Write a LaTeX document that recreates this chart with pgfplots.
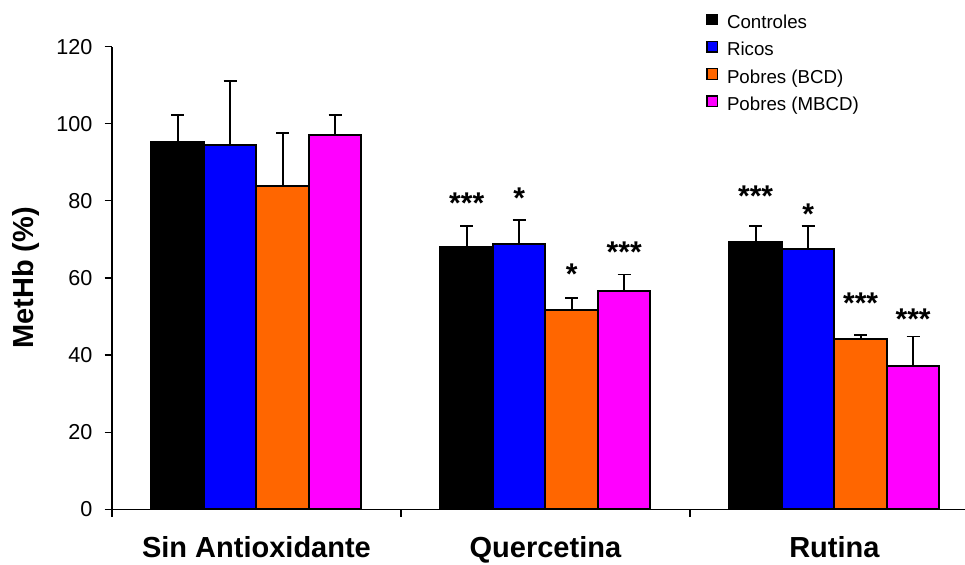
\documentclass[border=0pt]{standalone}
\usepackage{fontspec}
\setmainfont{Liberation Sans}
\usepackage{pgfplots}
\usepackage{pgfplotstable}
\pgfplotsset{compat=1.18}

\definecolor{ctrlcol}{RGB}{0,0,0}
\definecolor{ricoscol}{RGB}{0,0,255}
\definecolor{bcdcol}{RGB}{255,102,0}
\definecolor{mbcdcol}{RGB}{255,0,255}

% mean and SD per group (0 = Sin Antioxidante, 1 = Quercetina, 2 = Rutina)
\pgfplotstableread{
x y e
0 95.4 6.9
1 68.0 5.5
2 69.4 4.1
}\controles
\pgfplotstableread{
x y e
0 94.4 16.8
1 68.8 6.2
2 67.4 6.1
}\ricos
\pgfplotstableread{
x y e
0 83.8 13.9
1 51.6 3.3
2 44.2 1.0
}\pobresbcd
\pgfplotstableread{
x y e
0 97.2 5.1
1 56.7 4.2
2 37.2 7.6
}\pobresmbcd

\pgfplotsset{
  sqlegend/.style={legend image code/.code={
      \draw[##1, draw=black, line width=0.6pt] (0pt,-0.5pt) rectangle (5.25pt,4.75pt);
      \path (9.5pt,0pt);}},
  barplot/.style={draw=black, line width=1pt, fill=#1, sqlegend,
    error bars/.cd, y dir=plus, y explicit,
    error mark=-,
    error bar style={line width=0.9pt, black},
    error mark options={rotate=90, black, line width=0.9pt, mark size=3.25pt}},
}

\newcommand{\stars}[3]{\node[anchor=base, inner sep=0pt, font=\fontsize{15}{17}\bfseries\selectfont] at (axis cs:#1,#2) {#3};}

\begin{document}
\begin{tikzpicture}
\path[use as bounding box] (-56pt,-27.85pt) rectangle (426.5pt,254.65pt);
\begin{axis}[
  scale only axis,
  width=426.5pt, height=231.3pt,
  xmin=-0.5, xmax=2.452,
  ymin=0, ymax=120,
  ytick={0,20,...,120},
  axis x line=bottom, axis y line=left,
  axis line style={line width=0.6pt, -},
  tick align=outside,
  major tick length=3.7pt,
  tick style={line width=0.6pt, black},
  xtick={-0.5,0.5,1.5},
  xticklabels={},
  extra x ticks={0,1,2},
  extra x tick labels={Sin Antioxidante, Quercetina, Rutina},
  extra x tick style={major tick length=0pt,
    xticklabel style={anchor=base, inner sep=0pt, yshift=-24pt,
      font=\fontsize{14.5}{17}\bfseries\selectfont}},
  /pgf/number format/assume math mode=true,
  yticklabel style={font=\fontsize{10.8}{13}\selectfont, anchor=east, inner sep=0pt, xshift=-5.85pt},
  ylabel={MetHb (\%)},
  ylabel style={at={(axis description cs:-0.0844,0.5)}, anchor=south, inner sep=0pt,
    rotate=0, font=\fontsize{14.5}{17}\bfseries\selectfont},
  ybar=0pt, bar width=26.25pt,
  legend style={draw=none, fill=none, inner sep=0pt,
    at={(axis description cs:0.6964,1.0725)}, anchor=north west,
    font=\fontsize{9.35}{11}\selectfont, row sep=4.25pt,
    nodes={inner sep=0pt, text height=6.8pt, text depth=1.9pt}},
  legend cell align=left,
]
\addplot[barplot=ctrlcol] table[x=x, y=y, y error=e] {\controles};
\addplot[barplot=ricoscol] table[x=x, y=y, y error=e] {\ricos};
\addplot[barplot=bcdcol] table[x=x, y=y, y error=e] {\pobresbcd};
\addplot[barplot=mbcdcol] table[x=x, y=y, y error=e] {\pobresmbcd};
\legend{Controles, Ricos, Pobres (BCD), Pobres (MBCD)}

% significance marks
\stars{0.7275}{76.6}{***}
\stars{0.9092}{78.1}{*}
\stars{1.0908}{58.3}{*}
\stars{1.2725}{63.9}{***}
\stars{1.7275}{78.6}{***}
\stars{1.9092}{74.0}{*}
\stars{2.0908}{50.8}{***}
\stars{2.2725}{46.7}{***}
\end{axis}
\end{tikzpicture}
\end{document}
